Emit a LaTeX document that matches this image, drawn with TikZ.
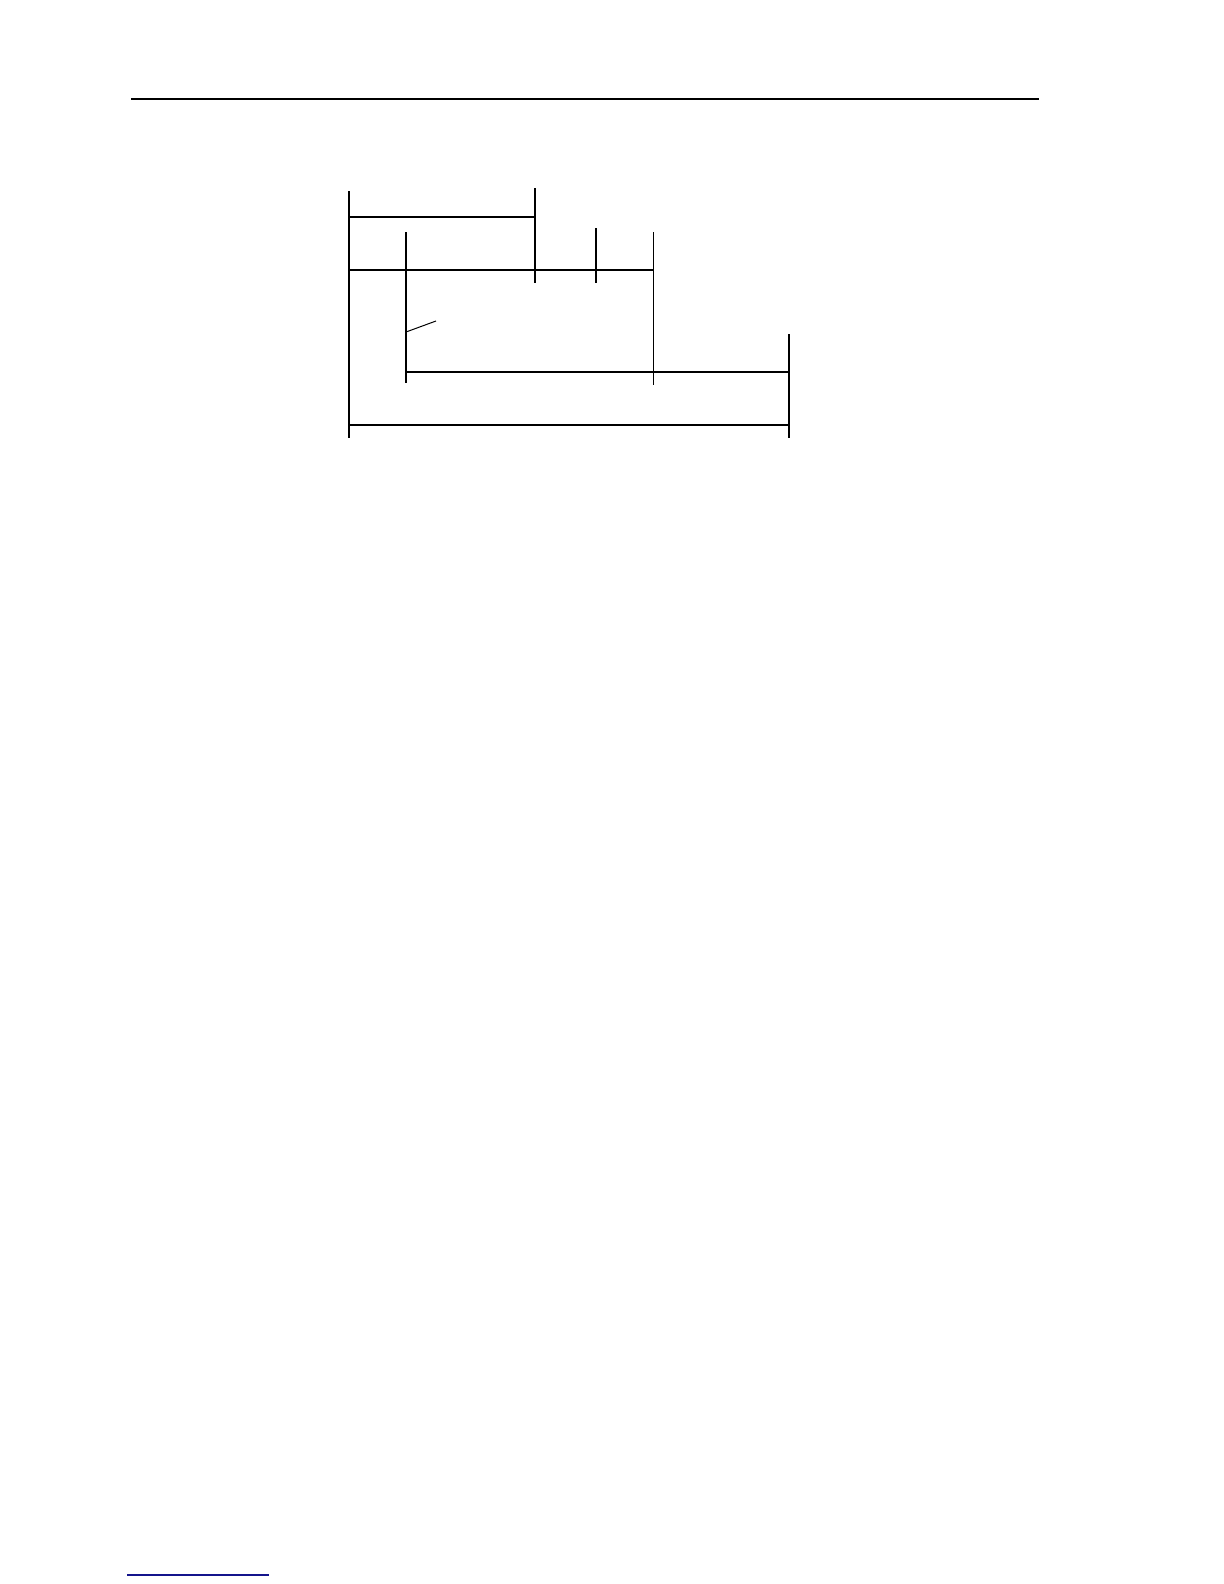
\documentclass[tikz,border=0pt]{standalone}
\usepackage{tikz}
\definecolor{linkblue}{RGB}{20,20,140}

\begin{document}
\begin{tikzpicture}[x=0.5bp, y=-0.5bp,
		bar/.style={line width=1bp},
		thin bar/.style={line width=0.5bp}]
	
	\useasboundingbox (0,0) rectangle (1224,1584);
	
	% page rules
	\coordinate (rl) at (131,99);
	\coordinate (rr) at (1039,99);
	\draw[line width=0.75bp] (rl) -- (rr);
	\coordinate (fl) at (127,1575);
	\coordinate (fr) at (269,1575);
	\draw[linkblue, line width=0.6bp] (fl) -- (fr);
	
	% uprights
	\coordinate (a1) at (349,191);
	\coordinate (a2) at (349,438);
	\coordinate (b1) at (535,188);
	\coordinate (b2) at (535,283);
	\coordinate (c1) at (406,232);
	\coordinate (c2) at (406,383);
	\coordinate (d1) at (596,228);
	\coordinate (d2) at (596,283);
	\coordinate (e1) at (653,232);
	\coordinate (e2) at (653,385);
	\coordinate (f1) at (789,334);
	\coordinate (f2) at (789,438);
	
	\draw[bar] (a1) -- (a2);
	\draw[bar] (b1) -- (b2);
	\draw[bar] (c1) -- (c2);
	\draw[bar] (d1) -- (d2);
	\draw[thin bar] (e1) -- (e2);
	\draw[bar] (f1) -- (f2);
	
	% cross bars
	\draw[bar] (a1 |- 0,217) -- (b1 |- 0,217);
	\draw[bar] (a1 |- 0,270) -- (e1 |- 0,270);
	\draw[bar] (c1 |- 0,372) -- (f1 |- 0,372);
	\draw[bar] (a1 |- 0,425) -- (f1 |- 0,425);
	
	% tick
	\coordinate (t1) at (406,332);
	\coordinate (t2) at (436,321);
	\draw[thin bar] (t1) -- (t2);
\end{tikzpicture}
\end{document}
